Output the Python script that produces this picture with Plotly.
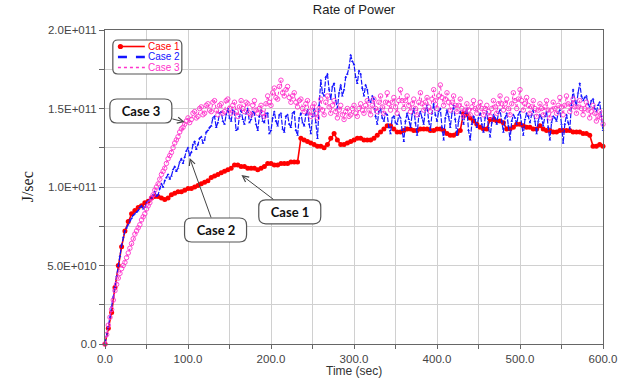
import plotly.graph_objects as go

# ---------------- data (values in units of 1E+011 J/sec) ----------------
SCALE = 1e11
time_case1 = list(range(0, 601, 4))   # Case 1 sampled every 4 s
time_fine = list(range(0, 601, 2))    # Case 2 / Case 3 sampled every 2 s

case1 = [
    0.00, 0.10, 0.20, 0.36, 0.50, 0.62, 0.72, 0.78, 0.83, 0.85,   # 0-36
    0.87, 0.88, 0.90, 0.91, 0.93, 0.94, 0.94, 0.93, 0.92, 0.93,   # 40-76
    0.95, 0.96, 0.97, 0.97, 0.98, 0.99, 0.99, 1.00, 1.01, 1.02,   # 80-116
    1.03, 1.04, 1.06, 1.07, 1.08, 1.09, 1.10, 1.11, 1.12, 1.14,   # 120-156
    1.14, 1.13, 1.13, 1.12, 1.12, 1.12, 1.11, 1.12, 1.13, 1.15,   # 160-196
    1.15, 1.14, 1.14, 1.15, 1.15, 1.15, 1.16, 1.16, 1.16, 1.31,   # 200-236
    1.30, 1.29, 1.28, 1.27, 1.26, 1.26, 1.25, 1.27, 1.31, 1.34,   # 240-276
    1.30, 1.27, 1.27, 1.28, 1.29, 1.30, 1.31, 1.31, 1.30, 1.30,   # 280-316
    1.30, 1.31, 1.33, 1.35, 1.37, 1.39, 1.39, 1.37, 1.35, 1.35,   # 320-356
    1.36, 1.37, 1.37, 1.36, 1.36, 1.37, 1.37, 1.37, 1.36, 1.36,   # 360-396
    1.37, 1.37, 1.36, 1.34, 1.33, 1.33, 1.34, 1.36, 1.47, 1.46,   # 400-436
    1.44, 1.42, 1.40, 1.38, 1.37, 1.37, 1.43, 1.43, 1.42, 1.42,   # 440-476
    1.41, 1.37, 1.37, 1.38, 1.40, 1.40, 1.39, 1.38, 1.38, 1.37,   # 480-516
    1.37, 1.39, 1.37, 1.36, 1.36, 1.35, 1.35, 1.36, 1.36, 1.36,   # 520-556
    1.36, 1.35, 1.35, 1.35, 1.34, 1.34, 1.33, 1.26, 1.26, 1.27,   # 560-596
    1.26,                                                         # 600
]

case2 = [
    0.00, 0.05, 0.11, 0.17, 0.24, 0.30, 0.36, 0.43, 0.50, 0.56,   # 0-18
    0.63, 0.68, 0.72, 0.74, 0.76, 0.79, 0.80, 0.82, 0.83, 0.84,   # 20-38
    0.85, 0.87, 0.88, 0.86, 0.87, 0.90, 0.91, 0.92, 0.93, 0.95,   # 40-58
    0.97, 0.94, 0.95, 0.99, 1.02, 1.00, 1.04, 1.06, 1.08, 1.05,   # 60-78
    1.07, 1.11, 1.13, 1.10, 1.12, 1.16, 1.18, 1.15, 1.19, 1.23,   # 80-98
    1.25, 1.20, 1.22, 1.27, 1.29, 1.24, 1.27, 1.31, 1.32, 1.28,   # 100-118
    1.30, 1.35, 1.36, 1.38, 1.39, 1.44, 1.45, 1.38, 1.41, 1.47,   # 120-138
    1.48, 1.42, 1.40, 1.46, 1.50, 1.44, 1.42, 1.49, 1.48, 1.36,   # 140-158
    1.37, 1.45, 1.49, 1.43, 1.40, 1.47, 1.50, 1.41, 1.43, 1.48,   # 160-178
    1.47, 1.40, 1.36, 1.45, 1.49, 1.42, 1.41, 1.47, 1.47, 1.34,   # 180-198
    1.36, 1.44, 1.48, 1.42, 1.39, 1.46, 1.47, 1.37, 1.35, 1.45,   # 200-218
    1.46, 1.40, 1.38, 1.47, 1.48, 1.36, 1.33, 1.44, 1.47, 1.41,   # 220-238
    1.39, 1.46, 1.49, 1.40, 1.34, 1.45, 1.50, 1.41, 1.31, 1.52,   # 240-258
    1.68, 1.60, 1.58, 1.70, 1.72, 1.62, 1.56, 1.64, 1.66, 1.55,   # 260-278
    1.50, 1.60, 1.65, 1.58, 1.62, 1.70, 1.72, 1.76, 1.84, 1.80,   # 280-298
    1.78, 1.70, 1.66, 1.74, 1.72, 1.63, 1.58, 1.65, 1.62, 1.55,   # 300-318
    1.54, 1.58, 1.56, 1.45, 1.40, 1.48, 1.50, 1.44, 1.42, 1.47,   # 320-338
    1.46, 1.38, 1.34, 1.44, 1.45, 1.41, 1.40, 1.46, 1.44, 1.36,   # 340-358
    1.29, 1.42, 1.47, 1.43, 1.38, 1.46, 1.50, 1.41, 1.33, 1.45,   # 360-378
    1.48, 1.44, 1.40, 1.49, 1.52, 1.42, 1.36, 1.47, 1.53, 1.46,   # 380-398
    1.42, 1.48, 1.50, 1.38, 1.30, 1.44, 1.49, 1.45, 1.38, 1.47,   # 400-418
    1.52, 1.43, 1.33, 1.42, 1.48, 1.45, 1.40, 1.47, 1.50, 1.36,   # 420-438
    1.30, 1.40, 1.45, 1.43, 1.38, 1.44, 1.47, 1.40, 1.35, 1.44,   # 440-458
    1.48, 1.38, 1.32, 1.41, 1.46, 1.44, 1.40, 1.47, 1.49, 1.42,   # 460-478
    1.35, 1.44, 1.47, 1.39, 1.30, 1.42, 1.46, 1.44, 1.40, 1.46,   # 480-498
    1.48, 1.40, 1.33, 1.43, 1.47, 1.45, 1.41, 1.46, 1.49, 1.42,   # 500-518
    1.34, 1.42, 1.46, 1.44, 1.39, 1.45, 1.48, 1.38, 1.30, 1.41,   # 520-538
    1.45, 1.44, 1.42, 1.47, 1.49, 1.40, 1.28, 1.40, 1.46, 1.41,   # 540-558
    1.37, 1.52, 1.62, 1.55, 1.52, 1.60, 1.66, 1.58, 1.55, 1.57,   # 560-578
    1.58, 1.53, 1.51, 1.55, 1.56, 1.50, 1.48, 1.52, 1.54, 1.45,   # 580-598
    1.36,                                                         # 600
]

case3 = [
    0.00, 0.06, 0.12, 0.17, 0.22, 0.28, 0.34, 0.38, 0.42, 0.45,   # 0-18
    0.48, 0.50, 0.52, 0.55, 0.58, 0.61, 0.64, 0.67, 0.70, 0.72,   # 20-38
    0.74, 0.76, 0.79, 0.81, 0.83, 0.86, 0.88, 0.90, 0.93, 0.95,   # 40-58
    0.98, 1.00, 1.02, 1.05, 1.08, 1.10, 1.12, 1.15, 1.18, 1.20,   # 60-78
    1.22, 1.25, 1.28, 1.30, 1.32, 1.35, 1.37, 1.38, 1.40, 1.42,   # 80-98
    1.44, 1.41, 1.43, 1.47, 1.48, 1.44, 1.45, 1.50, 1.51, 1.46,   # 100-118
    1.47, 1.52, 1.53, 1.49, 1.48, 1.54, 1.55, 1.49, 1.46, 1.52,   # 120-138
    1.53, 1.47, 1.48, 1.55, 1.56, 1.50, 1.47, 1.52, 1.54, 1.48,   # 140-158
    1.45, 1.51, 1.55, 1.50, 1.48, 1.54, 1.53, 1.47, 1.46, 1.52,   # 160-178
    1.55, 1.49, 1.47, 1.50, 1.52, 1.47, 1.45, 1.53, 1.58, 1.54,   # 180-198
    1.52, 1.60, 1.63, 1.57, 1.56, 1.64, 1.68, 1.60, 1.58, 1.62,   # 200-218
    1.64, 1.57, 1.54, 1.58, 1.60, 1.54, 1.51, 1.55, 1.56, 1.50,   # 220-238
    1.48, 1.53, 1.55, 1.48, 1.45, 1.51, 1.53, 1.47, 1.44, 1.50,   # 240-258
    1.56, 1.49, 1.46, 1.54, 1.58, 1.51, 1.47, 1.52, 1.55, 1.48,   # 260-278
    1.44, 1.49, 1.52, 1.46, 1.43, 1.48, 1.50, 1.45, 1.46, 1.50,   # 280-298
    1.52, 1.47, 1.45, 1.50, 1.53, 1.49, 1.47, 1.52, 1.55, 1.49,   # 300-318
    1.46, 1.52, 1.56, 1.50, 1.48, 1.54, 1.58, 1.51, 1.47, 1.54,   # 320-338
    1.60, 1.53, 1.49, 1.54, 1.57, 1.51, 1.47, 1.55, 1.62, 1.55,   # 340-358
    1.50, 1.55, 1.58, 1.52, 1.48, 1.53, 1.56, 1.50, 1.46, 1.54,   # 360-378
    1.60, 1.53, 1.49, 1.54, 1.57, 1.51, 1.48, 1.56, 1.62, 1.55,   # 380-398
    1.50, 1.58, 1.65, 1.57, 1.52, 1.56, 1.60, 1.54, 1.49, 1.54,   # 400-418
    1.58, 1.52, 1.48, 1.52, 1.56, 1.50, 1.45, 1.49, 1.53, 1.49,   # 420-438
    1.46, 1.51, 1.55, 1.50, 1.47, 1.51, 1.54, 1.50, 1.46, 1.50,   # 440-458
    1.52, 1.48, 1.45, 1.50, 1.55, 1.51, 1.47, 1.53, 1.58, 1.53,   # 460-478
    1.49, 1.53, 1.56, 1.50, 1.46, 1.53, 1.60, 1.55, 1.50, 1.56,   # 480-498
    1.62, 1.55, 1.49, 1.53, 1.57, 1.52, 1.47, 1.51, 1.55, 1.50,   # 500-518
    1.45, 1.49, 1.53, 1.50, 1.46, 1.51, 1.55, 1.49, 1.44, 1.49,   # 520-538
    1.54, 1.50, 1.47, 1.52, 1.57, 1.51, 1.46, 1.52, 1.58, 1.53,   # 540-558
    1.48, 1.52, 1.56, 1.51, 1.47, 1.51, 1.55, 1.50, 1.46, 1.50,   # 560-578
    1.54, 1.49, 1.44, 1.48, 1.52, 1.47, 1.42, 1.45, 1.48, 1.44,   # 580-598
    1.40,                                                         # 600
]

series_names = ["Case 1", "Case 2", "Case 3"]
series_colors = ["#ff0000", "#1414ff", "#ff33cc"]

x_tick_vals = [0, 50, 100, 150, 200, 250, 300, 350, 400, 450, 500, 550, 600]
x_tick_text = ["0.0", "", "100.0", "", "200.0", "", "300.0", "", "400.0", "", "500.0", "", "600.0"]
y_tick_vals = [0.0, 0.25, 0.5, 0.75, 1.0, 1.25, 1.5, 1.75, 2.0]
y_tick_text = ["0.0", "", "5.0E+010", "", "1.0E+011", "", "1.5E+011", "", "2.0E+011"]

# callouts: (label, arrow tip time, tip value, box centre time, box centre value)
callouts = [
    ("Case 3", 96, 1.414, 43.2, 1.484),
    ("Case 2", 102, 1.185, 133.2, 0.726),
    ("Case 1", 164.4, 1.076, 222.6, 0.842),
]

# ---------------- figure ----------------
fig = go.Figure()

fig.add_trace(go.Scatter(
    x=time_case1, y=[v * SCALE for v in case1], name=series_names[0],
    mode="lines+markers", cliponaxis=False,
    line=dict(color=series_colors[0], width=1.6),
    marker=dict(symbol="circle", size=5, color=series_colors[0]),
))
fig.add_trace(go.Scatter(
    x=time_fine, y=[v * SCALE for v in case2], name=series_names[1],
    mode="lines+markers", cliponaxis=False,
    line=dict(color=series_colors[1], width=1.2, dash="5px,1.5px"),
    marker=dict(symbol="triangle-up", size=2.5, color=series_colors[1]),
))
fig.add_trace(go.Scatter(
    x=time_fine, y=[v * SCALE for v in case3], name=series_names[2],
    mode="lines+markers", cliponaxis=False,
    line=dict(color=series_colors[2], width=1, dash="dot"),
    marker=dict(symbol="circle-open", size=4.5, color=series_colors[2], line=dict(width=0.9)),
))

L, R, T, B = 105, 24, 30, 35
W, H = 629, 379
PW, PH = W - L - R, H - T - B


def px_to_paper(px, py):
    return (px - L) / PW, (H - B - py) / PH


def rr_path(w, h, r):
    hw, hh = w / 2, h / 2
    return (f"M{-hw + r},{-hh} L{hw - r},{-hh} Q{hw},{-hh} {hw},{-hh + r} "
            f"L{hw},{hh - r} Q{hw},{hh} {hw - r},{hh} L{-hw + r},{hh} "
            f"Q{-hw},{hh} {-hw},{hh - r} L{-hw},{-hh + r} Q{-hw},{-hh} {-hw + r},{-hh} Z")


shapes = []
annotations = []

# callout boxes + arrows
for label, tx, tv, bx, bv in callouts:
    shapes.append(dict(
        type="path", xref="x", yref="y", xsizemode="pixel", ysizemode="pixel",
        xanchor=bx, yanchor=bv * SCALE, path=rr_path(62, 24, 7),
        line=dict(color="#555555", width=1.2), fillcolor="white", layer="above",
    ))
    annotations.append(dict(
        x=tx, y=tv * SCALE, ax=bx, ay=bv * SCALE, xref="x", yref="y", axref="x", ayref="y",
        text=f"<b>{label}</b>", showarrow=True, arrowhead=5, arrowsize=1.2,
        arrowwidth=1, arrowcolor="#444444", width=60, height=22, borderpad=1,
        font=dict(family="Lato, Open Sans, sans-serif", size=13, color="#111111"),
    ))

# legend (drawn manually to match the compact original)
lx, ly = px_to_paper(147.5, 57)
shapes.append(dict(
    type="path", xref="paper", yref="paper", xsizemode="pixel", ysizemode="pixel",
    xanchor=lx, yanchor=ly, path=rr_path(69, 34, 5),
    line=dict(color="#555555", width=1.2), fillcolor="white", layer="above",
))
rows_py = [46.5, 57, 67.5]
dashes = ["solid", "dash", "dot"]
widths = [1.6, 2.5, 1.3]
for name, color, py, dsh, wd in zip(series_names, series_colors, rows_py, dashes, widths):
    x0, y0 = px_to_paper(118, py)
    x1, _ = px_to_paper(145, py)
    shapes.append(dict(type="line", xref="paper", yref="paper", x0=x0, x1=x1, y0=y0, y1=y0,
                       line=dict(color=color, width=wd, dash=dsh), layer="above"))
    tx, ty = px_to_paper(146.5, py)
    annotations.append(dict(
        x=tx, y=ty, xref="paper", yref="paper", xanchor="left", yanchor="middle",
        text=name, showarrow=False,
        font=dict(family="Liberation Sans, Arial, sans-serif", size=10, color=color),
    ))
# red dot in legend sample
dx, dy = px_to_paper(120.5, rows_py[0])
shapes.append(dict(type="circle", xref="paper", yref="paper", xsizemode="pixel", ysizemode="pixel",
                   xanchor=dx, yanchor=dy, x0=-2.6, x1=2.6, y0=-2.6, y1=2.6,
                   fillcolor=series_colors[0], line=dict(color=series_colors[0], width=0),
                   layer="above"))

# axis titles
ax_t_x, ax_t_y = px_to_paper(355, 371)
annotations.append(dict(
    x=ax_t_x, y=ax_t_y, xref="paper", yref="paper", xanchor="center", yanchor="middle",
    text="Time (sec)", showarrow=False,
    font=dict(family="Liberation Sans, Arial, sans-serif", size=12, color="#333333"),
))
yt_x, yt_y = px_to_paper(27, 187)
annotations.append(dict(
    x=yt_x, y=yt_y, xref="paper", yref="paper", xanchor="center", yanchor="middle",
    text="J/sec", textangle=-90, showarrow=False,
    font=dict(family="Liberation Serif, Times New Roman, serif", size=16, color="#222222"),
))

tick_font = dict(family="Liberation Sans, Arial, sans-serif", size=11.5, color="#444444")

fig.update_layout(
    width=W, height=H,
    margin=dict(l=L, r=R, t=T, b=B),
    paper_bgcolor="white", plot_bgcolor="white",
    showlegend=False,
    title=dict(text="Rate of Power", x=0.5, xref="paper", y=1 - 9 / H, yref="container",
               xanchor="center", yanchor="middle",
               font=dict(family="Liberation Sans, Arial, sans-serif", size=13, color="#222222")),
    xaxis=dict(range=[0, 600], tickmode="array", tickvals=x_tick_vals, ticktext=x_tick_text,
               showgrid=True, gridcolor="#d0d0d0", gridwidth=1, zeroline=False,
               showline=True, linecolor="#666666", linewidth=1, mirror=True,
               ticks="outside", ticklen=4, tickcolor="#666666", tickfont=tick_font),
    yaxis=dict(range=[0, 2.0 * SCALE], tickmode="array",
               tickvals=[v * SCALE for v in y_tick_vals], ticktext=y_tick_text,
               showgrid=True, gridcolor="#d0d0d0", gridwidth=1, zeroline=False,
               showline=True, linecolor="#666666", linewidth=1, mirror=True,
               ticks="outside", ticklen=5, tickcolor="#666666", tickfont=tick_font),
    shapes=shapes,
    annotations=annotations,
)

fig.write_html("out.html", config={"displayModeBar": False},
               post_script="document.body.style.margin='0';document.body.style.padding='0';")
